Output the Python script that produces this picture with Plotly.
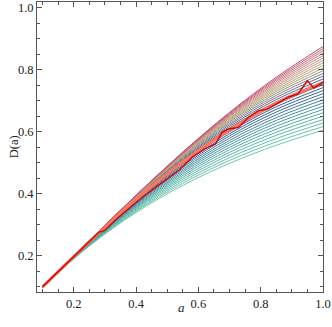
import plotly.graph_objects as go

# scale factor grid shared by the family of model curves
a_grid = [0.10, 0.25, 0.40, 0.55, 0.70, 0.85, 1.00]

# model curves D(a) (bottom curve first, top curve last)
D_curves = [
    [0.100, 0.2316, 0.3396, 0.4271, 0.4981, 0.5565, 0.6050],
    [0.100, 0.2330, 0.3434, 0.4340, 0.5075, 0.5674, 0.6165],
    [0.100, 0.2342, 0.3472, 0.4406, 0.5165, 0.5779, 0.6278],
    [0.100, 0.2354, 0.3508, 0.4469, 0.5253, 0.5884, 0.6390],
    [0.100, 0.2365, 0.3542, 0.4530, 0.5337, 0.5985, 0.6500],
    [0.100, 0.2376, 0.3574, 0.4588, 0.5420, 0.6084, 0.6609],
    [0.100, 0.2386, 0.3604, 0.4644, 0.5497, 0.6180, 0.6716],
    [0.100, 0.2396, 0.3633, 0.4697, 0.5575, 0.6274, 0.6822],
    [0.100, 0.2405, 0.3660, 0.4747, 0.5648, 0.6365, 0.6926],
    [0.100, 0.2413, 0.3687, 0.4797, 0.5720, 0.6455, 0.7028],
    [0.100, 0.2422, 0.3716, 0.4850, 0.5795, 0.6547, 0.7129],
    [0.100, 0.2431, 0.3743, 0.4900, 0.5867, 0.6635, 0.7228],
    [0.100, 0.2439, 0.3768, 0.4947, 0.5936, 0.6722, 0.7326],
    [0.100, 0.2447, 0.3792, 0.4992, 0.6001, 0.6804, 0.7422],
    [0.100, 0.2454, 0.3813, 0.5033, 0.6064, 0.6885, 0.7517],
    [0.100, 0.2459, 0.3832, 0.5069, 0.6120, 0.6960, 0.7610],
    [0.100, 0.2464, 0.3849, 0.5103, 0.6173, 0.7034, 0.7701],
    [0.100, 0.2469, 0.3866, 0.5136, 0.6225, 0.7105, 0.7791],
    [0.100, 0.2474, 0.3880, 0.5166, 0.6274, 0.7173, 0.7879],
    [0.100, 0.2478, 0.3894, 0.5195, 0.6321, 0.7240, 0.7966],
    [0.100, 0.2481, 0.3904, 0.5217, 0.6359, 0.7301, 0.8051],
    [0.100, 0.2483, 0.3911, 0.5234, 0.6394, 0.7357, 0.8135],
    [0.100, 0.2484, 0.3918, 0.5251, 0.6426, 0.7412, 0.8217],
    [0.100, 0.2486, 0.3924, 0.5267, 0.6457, 0.7466, 0.8297],
    [0.100, 0.2487, 0.3930, 0.5282, 0.6488, 0.7517, 0.8376],
    [0.100, 0.2489, 0.3936, 0.5296, 0.6517, 0.7568, 0.8453],
    [0.100, 0.2490, 0.3941, 0.5310, 0.6545, 0.7617, 0.8529],
    [0.100, 0.2491, 0.3946, 0.5322, 0.6572, 0.7665, 0.8603],
    [0.100, 0.2492, 0.3950, 0.5335, 0.6598, 0.7711, 0.8676],
    [0.100, 0.2493, 0.3955, 0.5347, 0.6625, 0.7758, 0.8747],
]

# smooth fit through the measurements
fit_D = [0.100, 0.245, 0.382, 0.503, 0.606, 0.692, 0.758]

# measured D(a)
data_a = [0.10, 0.13, 0.16, 0.19, 0.22, 0.25, 0.28, 0.30, 0.33, 0.36, 0.39,
          0.42, 0.45, 0.48, 0.51, 0.54, 0.58, 0.62, 0.655, 0.676, 0.697,
          0.729, 0.761, 0.793, 0.82, 0.85, 0.89, 0.92, 0.95, 0.97, 1.00]
data_D = [0.100, 0.130, 0.159, 0.188, 0.216, 0.245, 0.276, 0.282, 0.312, 0.338, 0.364,
          0.388, 0.411, 0.434, 0.456, 0.478, 0.518, 0.545, 0.561, 0.598, 0.609,
          0.614, 0.647, 0.668, 0.672, 0.690, 0.712, 0.722, 0.765, 0.741, 0.759]

x_ticks = [0.2, 0.4, 0.6, 0.8, 1.0]
y_ticks = [0.2, 0.4, 0.6, 0.8, 1.0]

# colour ramp (bottom -> top)
stops = [
    (0.00, (110, 200, 172)),
    (0.15, (84, 176, 166)),
    (0.30, (70, 138, 162)),
    (0.42, (54, 92, 152)),
    (0.52, (62, 82, 142)),
    (0.60, (120, 120, 132)),
    (0.70, (176, 166, 122)),
    (0.82, (200, 150, 130)),
    (0.92, (200, 110, 132)),
    (1.00, (190, 80, 112)),
]


def ramp(t):
    for (t0, c0), (t1, c1) in zip(stops[:-1], stops[1:]):
        if t <= t1:
            f = (t - t0) / (t1 - t0) if t1 > t0 else 0
            return "rgb(%d,%d,%d)" % tuple(round(c0[i] + f * (c1[i] - c0[i])) for i in range(3))
    return "rgb(%d,%d,%d)" % stops[-1][1]


fig = go.Figure()
n = len(D_curves)
for i, ys in enumerate(D_curves):
    fig.add_trace(go.Scatter(x=a_grid, y=ys, mode="lines",
                             line=dict(color=ramp(i / (n - 1)), width=1, shape="spline"),
                             hoverinfo="skip", showlegend=False))

fig.add_trace(go.Scatter(x=a_grid, y=fit_D, mode="lines",
                         line=dict(color="rgb(244,120,100)", width=3.2, shape="spline"),
                         showlegend=False))
fig.add_trace(go.Scatter(x=data_a, y=data_D, mode="lines",
                         line=dict(color="rgb(200,10,10)", width=1.4),
                         showlegend=False))

serif = "Liberation Serif, Times New Roman, serif"
axis_common = dict(
    showline=True, linecolor="#555", linewidth=1, mirror="ticks",
    ticks="inside", ticklen=5, tickwidth=1, tickcolor="#555",
    showgrid=False, zeroline=False,
    tickfont=dict(family=serif, size=12.5, color="#222"),
    ticklabeloverflow="allow",
    minor=dict(ticks="inside", ticklen=3, tickcolor="#555", dtick=0.05, showgrid=False),
)

fig.update_xaxes(range=[0.082, 1.0], tickvals=x_ticks, ticktext=["%.1f" % v for v in x_ticks],
                 **axis_common)
fig.update_yaxes(range=[0.0834, 1.0183], tickvals=y_ticks, ticktext=["%.1f" % v for v in y_ticks],
                 **axis_common)

fig.update_layout(
    width=332, height=327,
    margin=dict(l=37, r=7, t=1, b=35),
    paper_bgcolor="white", plot_bgcolor="white",
    showlegend=False,
    annotations=[
        dict(text="D(a)", xref="paper", yref="paper", x=-0.111, y=0.5,
             textangle=-90, showarrow=False, font=dict(family=serif, size=12.5, color="#222")),
        dict(text="<i>a</i>", xref="paper", yref="paper", x=0.504, y=-0.085,
             showarrow=False, font=dict(family=serif, size=13, color="#222")),
    ],
)

fig.write_html("out.html", config={"displayModeBar": False},
               post_script="document.body.style.margin='0';document.body.style.overflow='hidden';")
